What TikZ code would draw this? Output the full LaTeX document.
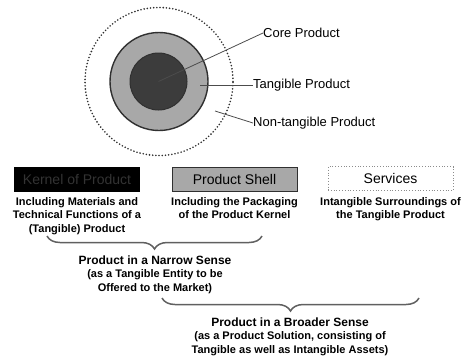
\documentclass[tikz,border=0pt]{standalone}
\usepackage{fontspec}
\setmainfont{Liberation Sans}
\usetikzlibrary{decorations.pathreplacing}
\definecolor{coregray}{HTML}{3C3C3C}
\definecolor{shellgray}{HTML}{A8A8A8}
\definecolor{rimgray}{HTML}{303030}
\definecolor{bracegray}{HTML}{606060}
\definecolor{kerneltext}{HTML}{333333}
\tikzset{
  circ/.style={circle, draw=rimgray, inner sep=0pt, outer sep=0pt},
  leader/.style={draw=black!70, line width=0.8pt},
  lbl/.style={anchor=west, inner sep=0pt, font=\fontsize{13}{15}\selectfont},
  prodbox/.style={minimum width=125pt, minimum height=24pt, inner sep=0pt,
    font=\fontsize{14}{16}\selectfont},
  desc/.style={anchor=north, inner sep=0pt, align=center,
    font=\bfseries\fontsize{11}{13.5}\selectfont},
  bracepath/.style={draw=bracegray, line width=1.5pt, decorate,
    decoration={brace, amplitude=13pt}}
}
\begin{document}
\begin{tikzpicture}[x=1pt, y=-1pt]
\useasboundingbox (0,0) rectangle (462,356);
\begin{scope}
    %circles
    \node[circ, minimum size=148pt, line width=1.8pt, line cap=round, dash pattern=on 0pt off 3.2pt] (nontangible) at (159,81.5) {};
    \node[circ, minimum size=98pt, line width=1.4pt, fill=shellgray] (tangible) at (159,81.5) {};
    \node[circ, minimum size=57pt, line width=1pt, fill=coregray] (core) at (158.5,81.5) {};
    %labels
    \node[lbl] (corelbl) at (263,33) {Core Product};
    \node[lbl] (tangiblelbl) at (253,85) {Tangible Product};
    \node[lbl] (nontangiblelbl) at (253,123) {Non-tangible Product};
    \coordinate (tstart) at (200,85);
    \coordinate (nstart) at (215,111);
    %leaders
    \draw[leader] (core.center) -- (corelbl.west);
    \draw[leader] (tstart) -- (tangiblelbl.west);
    \draw[leader] (nstart) -- (nontangiblelbl.west);
    %boxes
    \node[prodbox, fill=black, draw=black, text=kerneltext] (kernel) at (77,179) {Kernel of Product};
    \node[prodbox, fill=shellgray, draw=rimgray, line width=0.8pt] (shell) at (234.5,179) {Product Shell};
    \node[prodbox, draw=black!45, line width=0.8pt, dotted] (services) at (390.5,178.5) {Services};
    %descriptions
    \node[desc] (kerneldesc) at (77,197) {Including Materials and\\Technical Functions of a\\(Tangible) Product};
    \node[desc] (shelldesc) at (234.5,197) {Including the Packaging\\of the Product Kernel};
    \node[desc] (servicesdesc) at (390.5,197) {Intangible Surroundings of\\the Tangible Product};
    %braces
    \coordinate (narrowL) at (47,236);
    \coordinate (narrowR) at (262,236);
    \coordinate (broadL) at (162,298);
    \coordinate (broadR) at (419,298);
    \draw[bracepath] (narrowR) -- (narrowL);
    \draw[bracepath] (broadR) -- (broadL);
    \node[desc] (narrow) at (155,255.5) {{\fontsize{12}{14}\selectfont Product in a Narrow Sense}\\(as a Tangible Entity to be\\Offered to the Market)};
    \node[desc] (broad) at (290,317.5) {{\fontsize{12}{14}\selectfont Product in a Broader Sense}\\(as a Product Solution, consisting of\\Tangible as well as Intangible Assets)};
\end{scope}
\end{tikzpicture}
\end{document}
